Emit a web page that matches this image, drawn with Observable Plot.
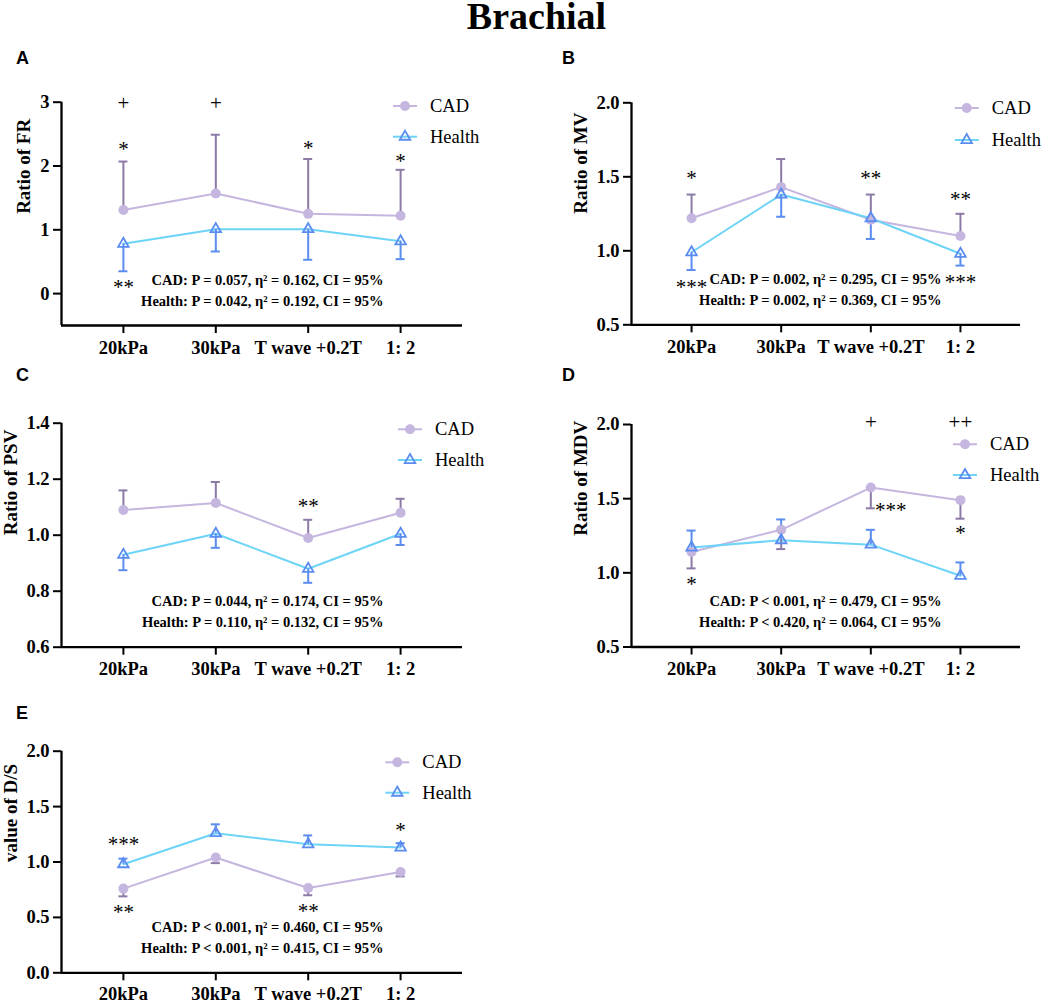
<!DOCTYPE html>
<html><head><meta charset="utf-8">
<script src="https://cdn.jsdelivr.net/npm/d3@7"></script>
<script src="https://cdn.jsdelivr.net/npm/@observablehq/plot@0.6"></script>
<style>
body{margin:0;background:#fff;}
#wrap{position:relative;width:1059px;height:1003px;overflow:hidden;font-family:"Liberation Serif","Times New Roman",serif;}
.title{position:absolute;left:0;width:1073px;top:0px;text-align:center;font-weight:bold;font-size:38px;line-height:32px;}
.letter{position:absolute;font-family:"Liberation Sans",Arial,sans-serif;font-weight:bold;font-size:18px;line-height:18px;}
.panel{position:absolute;}
</style></head>
<body>
<div id="wrap">
  <div class="title">Brachial</div>
</div>
<script>
// ---------- data ----------
const categories = ["20kPa", "30kPa", "T wave +0.2T", "1: 2"];
const series = ["CAD", "Health"];

// A: Ratio of FR
const frCad = [1.31, 1.57, 1.25, 1.22];
const frCadBar = [2.07, 2.49, 2.11, 1.94];
const frHealth = [0.78, 1.01, 1.01, 0.82];
const frHealthBar = [0.35, 0.66, 0.53, 0.54];
// B: Ratio of MV
const mvCad = [1.22, 1.43, 1.21, 1.10];
const mvCadBar = [1.38, 1.62, 1.38, 1.25];
const mvHealth = [0.99, 1.38, 1.22, 0.98];
const mvHealthBar = [0.87, 1.23, 1.08, 0.90];
// C: Ratio of PSV
const psvCad = [1.09, 1.115, 0.99, 1.08];
const psvCadBar = [1.16, 1.19, 1.055, 1.13];
const psvHealth = [0.93, 1.005, 0.88, 1.005];
const psvHealthBar = [0.875, 0.955, 0.83, 0.965];
// D: Ratio of MDV
const mdvCad = [1.14, 1.29, 1.575, 1.49];
const mdvCadBar = [1.03, 1.16, 1.435, 1.365];
const mdvHealth = [1.17, 1.22, 1.19, 0.98];
const mdvHealthBar = [1.285, 1.36, 1.29, 1.07];
// E: value of D/S
const dsCad = [0.76, 1.04, 0.765, 0.91];
const dsCadBar = [0.69, 0.99, 0.70, 0.87];
const dsHealth = [0.98, 1.26, 1.16, 1.13];
const dsHealthBar = [1.03, 1.34, 1.24, 1.17];

const yLabels = ["Ratio of FR", "Ratio of MV", "Ratio of PSV", "Ratio of MDV", "value of D/S"];
const yTicksA = [0, 1, 2, 3];
const yTicksHalf = [0.5, 1.0, 1.5, 2.0];
const yTicksC = [0.6, 0.8, 1.0, 1.2, 1.4];
const yTicksE = [0.0, 0.5, 1.0, 1.5, 2.0];

const statsA = ["CAD: P = 0.057, η² = 0.162, CI = 95%", "Health: P = 0.042, η² = 0.192, CI = 95%"];
const statsB = ["CAD: P = 0.002, η² = 0.295, CI = 95%", "Health: P = 0.002, η² = 0.369, CI = 95%"];
const statsC = ["CAD: P = 0.044, η² = 0.174, CI = 95%", "Health: P = 0.110, η² = 0.132, CI = 95%"];
const statsD = ["CAD: P < 0.001, η² = 0.479, CI = 95%", "Health: P < 0.420, η² = 0.064, CI = 95%"];
const statsE = ["CAD: P < 0.001, η² = 0.460, CI = 95%", "Health: P < 0.001, η² = 0.415, CI = 95%"];

// significance marks: category index, attached to, text
const notesA = [[0,"top","+"],[1,"top","+"],[0,"cadBar","*"],[2,"cadBar","*"],[3,"cadBar","*"],[0,"healthBar","**"]];
const notesB = [[0,"cadBar","*"],[2,"cadBar","**"],[3,"cadBar","**"],[0,"healthBar","***"],[3,"healthBar","***"]];
const notesC = [[2,"cadBar","**"]];
const notesD = [[2,"top","+"],[3,"top","++"],[2,"cadBar","***"],[3,"cadBar","*"],[0,"cadBar","*"]];
const notesE = [[0,"healthBar","***"],[3,"healthBar","*"],[0,"cadBar","**"],[2,"cadBar","**"]];

// ---------- style ----------
const LAV = "#c5b6df", DPUR = "#8c7aa6", CYAN = "#6dd4f8", BLUE = "#5b8cf0";
const SERIF = "'Liberation Serif','Times New Roman',serif";

// note offsets (px) keyed by panel/note index
const noteDy = {
  A: [1, 1, -12, -11, -9, 16],
  B: [-16, -16, -15, 17, 17],
  C: [-14],
  D: [-2.6, -2.6, 2, 15, 16],
  E: [-14, -13, 16, 16]
};
const noteDx = { D: [0, 0, 20, 0, 0] };

function panel(p) {
  const n = categories.length;
  const pad = 0.67;
  const rows = categories.map((c, i) => ({i, cat: c, cad: p.cad[i], cadBar: p.cadBar[i], health: p.health[i], healthBar: p.healthBar[i]}));
  const [y0, y1] = p.yDomain;
  const notes = p.notes.map(([i, ref, t], k) => Plot.text([{i, t, y: ref === "top" ? y1 : rows[i][ref]}], {
    x: "i", y: "y", text: "t", fontSize: 21, fontWeight: "normal",
    dy: noteDy[p.key][k], dx: (noteDx[p.key] || [])[k] || 0
  }));
  const chart = Plot.plot({
    width: p.w, height: p.h,
    marginLeft: p.ml, marginRight: p.mr, marginTop: p.mt, marginBottom: p.mb,
    style: {background: "transparent", fontFamily: SERIF, fontWeight: "bold", overflow: "visible", color: "#000"},
    x: {domain: [-pad, n - 1 + pad], axis: null},
    y: {domain: p.yDomain, axis: null},
    marks: [
      Plot.axisX(d3.range(n), {tickFormat: i => categories[i], tickSize: 8, tickPadding: p.xtp ?? 7, fontSize: 18.5, strokeWidth: 2, label: null}),
      Plot.axisY(p.yTicks, {tickFormat: p.fmt, tickSize: 8, tickPadding: 4, fontSize: 18.5, strokeWidth: 2, label: null}),
      Plot.ruleX([-pad], {strokeWidth: 2.3}),
      Plot.ruleY([y0], {strokeWidth: 2.3}),
      Plot.line(rows, {x: "i", y: "cad", stroke: LAV, strokeWidth: 2}),
      Plot.line(rows, {x: "i", y: "health", stroke: CYAN, strokeWidth: 2}),
      Plot.ruleX(rows, {x: "i", y1: "cad", y2: "cadBar", stroke: DPUR, strokeWidth: 2}),
      Plot.ruleY(rows, {y: "cadBar", x1: "i", x2: "i", insetLeft: -4.5, insetRight: -4.5, stroke: DPUR, strokeWidth: 2}),
      Plot.ruleX(rows, {x: "i", y1: "health", y2: "healthBar", stroke: BLUE, strokeWidth: 2}),
      Plot.ruleY(rows, {y: "healthBar", x1: "i", x2: "i", insetLeft: -4.5, insetRight: -4.5, stroke: BLUE, strokeWidth: 2}),
      Plot.dot(rows, {x: "i", y: "cad", r: 5, fill: LAV, stroke: "none"}),
      Plot.dot(rows, {x: "i", y: "health", symbol: "triangle", r: 3.9, fill: "none", stroke: BLUE, strokeWidth: 1.8}),
      ...notes,
      Plot.text([p.stats[0]], {frameAnchor: "bottom-right", textAnchor: "end", dx: -79, dy: -41, fontSize: 14.5}),
      Plot.text([p.stats[1]], {frameAnchor: "bottom-right", textAnchor: "end", dx: -79, dy: -20, fontSize: 14.5}),
      Plot.text([p.ylabel], {frameAnchor: "left", rotate: -90, dx: -p.lo, fontSize: 19})
    ]
  });
  // legend
  const svg = d3.select(chart);
  const lg = svg.append("g").attr("font-family", SERIF).attr("font-weight", "normal").attr("font-size", 18.5).attr("text-anchor", "start");
  series.forEach((s, k) => {
    const y = p.legY[k], x = p.legX;
    lg.append("line").attr("x1", x - 12).attr("x2", x + 12).attr("y1", y).attr("y2", y)
      .attr("stroke", k === 0 ? LAV : CYAN).attr("stroke-width", 2);
    if (k === 0) {
      lg.append("circle").attr("cx", x).attr("cy", y).attr("r", 5).attr("fill", LAV);
    } else {
      lg.append("path").attr("d", d3.symbol(d3.symbolTriangle, 3.9 * 3.9 * Math.PI)())
        .attr("transform", `translate(${x},${y})`).attr("fill", "none").attr("stroke", BLUE).attr("stroke-width", 1.8);
    }
    lg.append("text").attr("x", x + 25).attr("y", y).attr("dy", "0.33em").attr("text-anchor", "start").attr("fill", "#000").text(s);
  });
  chart.classList.add("panel");
  chart.style.left = p.left + "px";
  chart.style.top = p.top + "px";
  chart.style.position = "absolute";
  document.getElementById("wrap").appendChild(chart);
}

const f1 = d3.format(".1f");
const panels = [
  {key: "A", left: 0, top: 40, w: 520, h: 320, ml: 61, mr: 58, mt: 61.7, mb: 35,
   cad: frCad, cadBar: frCadBar, health: frHealth, healthBar: frHealthBar,
   yDomain: [-0.5, 3], yTicks: yTicksA, fmt: d3.format("d"), ylabel: yLabels[0], lo: 38,
   stats: statsA, notes: notesA, legX: 405, legY: [66, 96.7]},
  {key: "B", left: 520, top: 40, w: 539, h: 320, ml: 111, mr: 39, mt: 62.3, mb: 35.7,
   cad: mvCad, cadBar: mvCadBar, health: mvHealth, healthBar: mvHealthBar,
   yDomain: [0.5, 2], yTicks: yTicksHalf, fmt: f1, ylabel: yLabels[1], lo: 50.5,
   stats: statsB, notes: notesB, legX: 446.7, legY: [68, 100]},
  {key: "C", left: 0, top: 360, w: 520, h: 330, ml: 61, mr: 58, mt: 62.7, mb: 43.3,
   cad: psvCad, cadBar: psvCadBar, health: psvHealth, healthBar: psvHealthBar,
   yDomain: [0.6, 1.4], yTicks: yTicksC, fmt: f1, ylabel: yLabels[2], lo: 51,
   stats: statsC, notes: notesC, legX: 410, legY: [69.3, 100]},
  {key: "D", left: 520, top: 360, w: 539, h: 330, ml: 111, mr: 39, mt: 64, mb: 43.5,
   cad: mdvCad, cadBar: mdvCadBar, health: mdvHealth, healthBar: mdvHealthBar,
   yDomain: [0.5, 2], yTicks: yTicksHalf, fmt: f1, ylabel: yLabels[3], lo: 51,
   stats: statsD, notes: notesD, legX: 445, legY: [84.3, 115]},
  {key: "E", left: 0, top: 690, w: 520, h: 313, ml: 61, mr: 58, mt: 60.7, mb: 30.7, xtp: 6,
   cad: dsCad, cadBar: dsCadBar, health: dsHealth, healthBar: dsHealthBar,
   yDomain: [0, 2], yTicks: yTicksE, fmt: f1, ylabel: yLabels[4], lo: 51,
   stats: statsE, notes: notesE, legX: 397.3, legY: [72.3, 102.7]}
];
panels.forEach(panel);

// panel letters
const letters = [["A", 16, 49.4], ["B", 562, 49.4], ["C", 16, 365.7], ["D", 562, 365.7], ["E", 16, 704.4]];
letters.forEach(([t, x, y]) => {
  const d = document.createElement("div");
  d.className = "letter"; d.style.left = x + "px"; d.style.top = y + "px"; d.textContent = t;
  document.getElementById("wrap").appendChild(d);
});
</script>
</body></html>
